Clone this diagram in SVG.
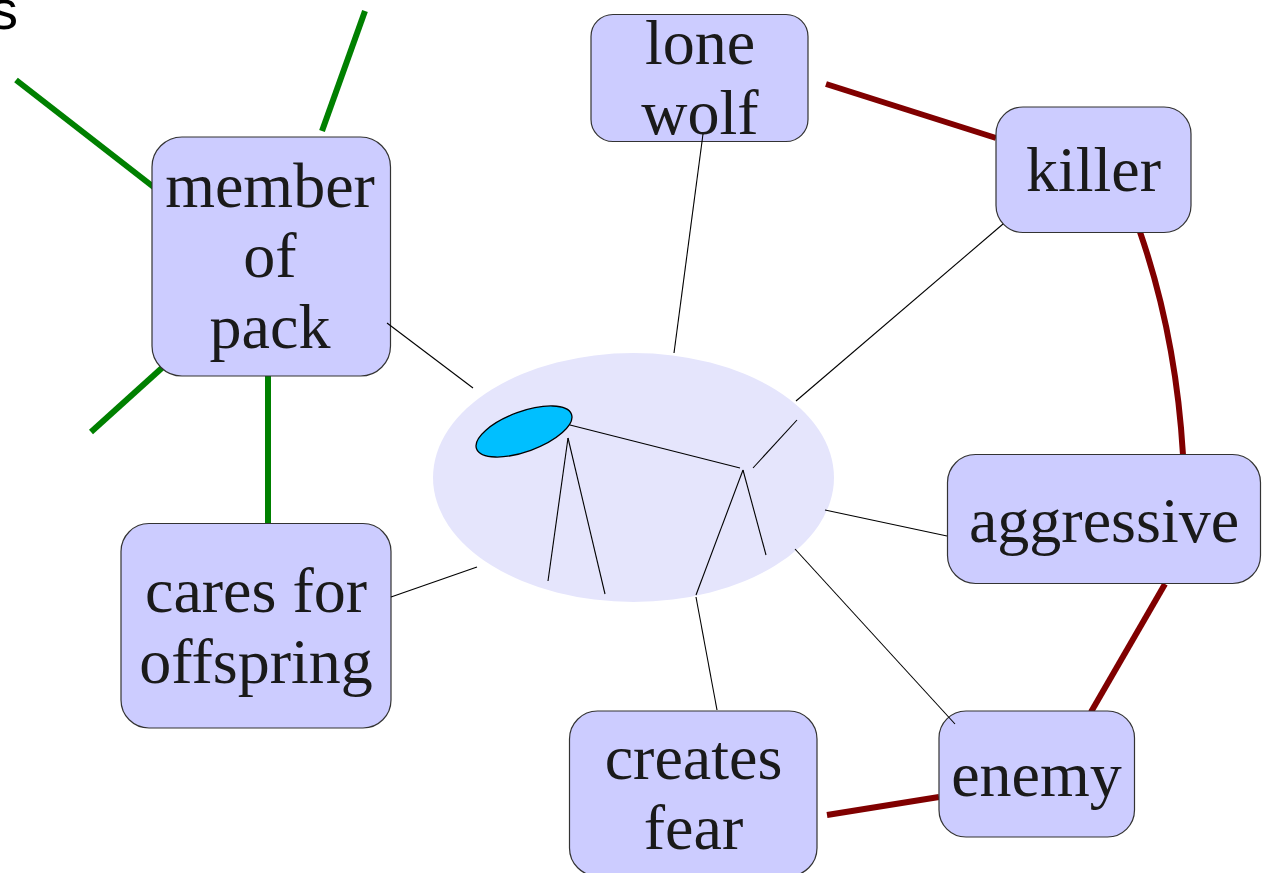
<svg xmlns="http://www.w3.org/2000/svg" width="1265" height="873" viewBox="0 0 1265 873">
<style>
.box{fill:#ccccff;stroke:#333;stroke-width:1.2}
.lbl{font-family:"Liberation Serif","Times New Roman",serif;font-size:64px;fill:#1a1a1a;text-anchor:middle}
.thin{stroke:#000;stroke-width:1.1;fill:none}
.green{stroke:#008000;stroke-width:6;fill:none}
.red{stroke:#800000;stroke-width:6;fill:none}
</style>
<rect width="1265" height="873" fill="#fff"/>
<text x="-10" y="29" font-family="Liberation Sans, Arial, sans-serif" font-size="56" fill="#000">s</text>

<g id="wolf">
<ellipse cx="633.5" cy="477.5" rx="200.5" ry="124.5" fill="#e5e5fc"/>
<ellipse cx="524" cy="431.5" rx="50.5" ry="20" transform="rotate(-20 524 431.5)" fill="#00bfff" stroke="#000" stroke-width="1.3"/>
<g class="thin">
<line x1="570" y1="425" x2="740" y2="468"/>
<line x1="753" y1="468" x2="797" y2="420"/>
<line x1="568" y1="438" x2="548" y2="581"/>
<line x1="568" y1="438" x2="605" y2="594"/>
<line x1="743" y1="470" x2="696" y2="595"/>
<line x1="743" y1="470" x2="766" y2="555"/>
</g>
</g>

<g id="connectors-colored">
<line class="green" x1="16" y1="80" x2="160" y2="192"/>
<line class="green" x1="365" y1="11" x2="322" y2="131"/>
<line class="green" x1="163" y1="367" x2="91" y2="432"/>
<line class="green" x1="268" y1="376" x2="268" y2="523"/>
<line class="red" x1="826" y1="84" x2="996" y2="138"/>
<path class="red" d="M1140 232 Q1176 336 1183 455"/>
<line class="red" x1="1165" y1="584" x2="1091" y2="712"/>
<line class="red" x1="827" y1="815" x2="939" y2="797"/>
</g>

<g id="node-lone-wolf">
<rect class="box" x="591" y="14.5" width="217" height="127" rx="22"/>
<text class="lbl" x="700" y="64">lone</text>
<text class="lbl" x="700" y="134">wolf</text>
</g>
<g id="node-killer">
<rect class="box" x="996" y="107" width="195" height="125.5" rx="27"/>
<text class="lbl" x="1093.5" y="191">killer</text>
</g>
<g id="node-member-of-pack">
<rect class="box" x="152" y="137" width="238.5" height="239" rx="30"/>
<text class="lbl" x="270" y="207">member</text>
<text class="lbl" x="270" y="277">of</text>
<text class="lbl" x="270" y="348">pack</text>
</g>
<g id="node-cares-for-offspring">
<rect class="box" x="121" y="523.5" width="270" height="204.5" rx="28"/>
<text class="lbl" x="256" y="612">cares for</text>
<text class="lbl" x="256" y="683">offspring</text>
</g>
<g id="node-aggressive">
<rect class="box" x="947.5" y="454.5" width="313" height="129" rx="28"/>
<text class="lbl" x="1104" y="542">aggressive</text>
</g>
<g id="node-enemy">
<rect class="box" x="939" y="711" width="195.5" height="126" rx="27"/>
<text class="lbl" x="1036.5" y="796">enemy</text>
</g>
<g id="node-creates-fear">
<rect class="box" x="569.5" y="711" width="247.5" height="165" rx="28"/>
<text class="lbl" x="693.5" y="779">creates</text>
<text class="lbl" x="693.5" y="849">fear</text>
</g>

<g id="connectors" class="thin">
<line x1="387" y1="323" x2="473" y2="388"/>
<line x1="703" y1="134" x2="674" y2="353"/>
<line x1="1003" y1="224" x2="796" y2="401"/>
<line x1="947" y1="536" x2="825" y2="510"/>
<line x1="955" y1="724" x2="795" y2="549"/>
<line x1="717" y1="710" x2="696" y2="597"/>
<line x1="391" y1="597" x2="477" y2="567"/>
</g>
</svg>
